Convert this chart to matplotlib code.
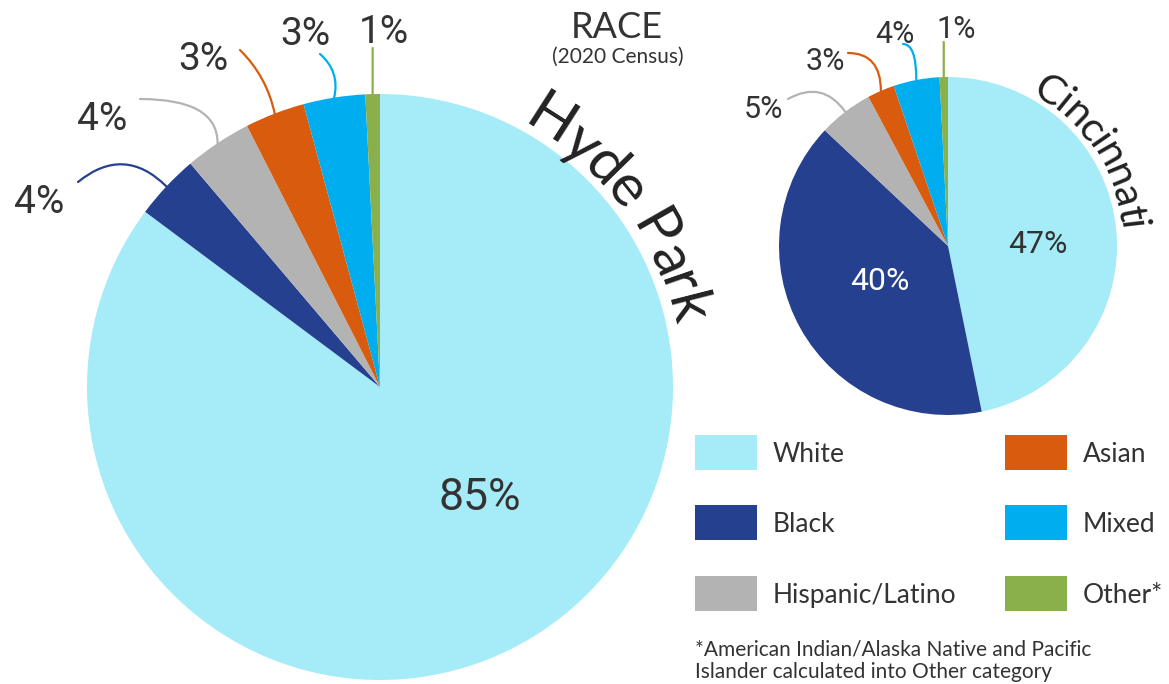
import numpy as np
import matplotlib.pyplot as plt
from matplotlib.patches import Rectangle
from matplotlib.textpath import TextToPath
from matplotlib.font_manager import FontProperties

W, H, DPI = 1169, 684, 100

# data (percent of population, 2020 census)
races = ['White', 'Black', 'Hispanic/Latino', 'Asian', 'Mixed', 'Other*']
colors = ['#A6ECF8', '#25408F', '#B3B3B3', '#D95B0E', '#00AEEF', '#8AB04B']
hyde_park = [85.2, 3.6, 3.7, 3.3, 3.4, 0.8]
cincinnati = [46.8, 40.2, 5.2, 2.6, 4.4, 0.8]

NUM_FONT = 'Roboto'
HEAD_FONT = 'Lato'
TXT = '#333333'


def Y(y):
    # pixel row (from top) -> data y
    return H - y


fig = plt.figure(figsize=(W / DPI, H / DPI), dpi=DPI)
ax = fig.add_axes([0, 0, 1, 1])

hp_c, hp_r = (380, Y(387)), 293
ci_c, ci_r = (948, Y(246)), 169

hp_w, _ = ax.pie(hyde_park, colors=colors, startangle=90, counterclock=False,
                 center=hp_c, radius=hp_r, wedgeprops=dict(linewidth=0))
ci_w, _ = ax.pie(cincinnati, colors=colors, startangle=90, counterclock=False,
                 center=ci_c, radius=ci_r, wedgeprops=dict(linewidth=0))

ax.set_xlim(0, W)
ax.set_ylim(0, H)
ax.set_aspect('equal')
ax.axis('off')


def wedge_point(w, c, r):
    a = np.deg2rad((w.theta1 + w.theta2) / 2)
    return c[0] + r * np.cos(a), c[1] + r * np.sin(a)


def labels(wedges, vals, c, r, pos, ends, styles, sizes, tcolors):
    for w, v, p, e, st, fs, tc in zip(wedges, vals, pos, ends, styles, sizes, tcolors):
        ax.text(p[0], Y(p[1]), f'{v:.0f}%', ha='center', va='baseline',
                fontsize=fs, family=NUM_FONT, color=tc)
        if e is None:
            continue
        wx, wy = wedge_point(w, c, r)
        ex = wx if e[0] is None else e[0]
        ax.annotate('', xy=(wx, wy), xytext=(ex, Y(e[1])),
                    arrowprops=dict(arrowstyle='-', color=w.get_facecolor(), lw=1.6,
                                    connectionstyle=st, shrinkA=0, shrinkB=0))


labels(hp_w, hyde_park, hp_c, hp_r,
       [(480, 510), (39, 213), (102, 130), (203, 70), (305, 45), (384, 43)],
       [None, (78, 182), (140, 99), (240, 50), (320, 54), (None, 48)],
       [None, 'arc3,rad=-0.45', 'angle3,angleA=0,angleB=90', 'arc3,rad=-0.15',
        'arc3,rad=-0.3', 'arc3,rad=0'],
       [32, 28, 28, 28, 28, 28], [TXT] * 6)

labels(ci_w, cincinnati, ci_c, ci_r,
       [(1038, 253), (880, 290), (763, 118), (825, 70), (895, 43), (956, 38)],
       [None, None, (788, 99), (848, 53), (903, 44), (None, 42)],
       [None, None, 'arc3,rad=-0.45', 'angle3,angleA=0,angleB=90',
        'angle3,angleA=0,angleB=90', 'arc3,rad=0'],
       [23, 23, 22, 22, 22, 22], [TXT, 'white'] + [TXT] * 4)


def curved_text(s, c, r_base, r_space, a_start, a_end, family):
    # letters placed clockwise along an arc, sized to fill the span
    t2p = TextToPath()

    def width(t, fs):
        if not t:
            return 0.0
        prop = FontProperties(family=family, size=fs)
        return t2p.get_text_width_height_descent(t, prop, ismath=False)[0] * DPI / 72

    span = np.deg2rad(a_start - a_end) * r_space
    fs = span / width(s, 1.0)
    prop = FontProperties(family=family, size=fs)
    for i, ch in enumerate(s):
        if ch == ' ':
            continue
        mid = (width(s[:i], fs) + width(s[:i + 1], fs)) / 2
        a = np.deg2rad(a_start) - mid / r_space
        ax.text(c[0] + r_base * np.cos(a), c[1] + r_base * np.sin(a), ch,
                fontproperties=prop, rotation=np.rad2deg(a) - 90,
                rotation_mode='anchor', ha='center', va='baseline', color='#222222')


curved_text('Hyde Park', hp_c, 299, 312, 61.5, 11.5, HEAD_FONT)
curved_text('Cincinnati', ci_c, 173, 186, 61, 5, HEAD_FONT)

ax.text(617, Y(38), 'RACE', ha='center', va='baseline', fontsize=26,
        family=HEAD_FONT, color=TXT)
ax.text(618, Y(63), '(2020 Census)', ha='center', va='baseline', fontsize=15,
        family=HEAD_FONT, color=TXT)

# legend, two columns
leg_x = [695, 695, 695, 1005, 1005, 1005]
leg_top = [435, 505, 576, 435, 505, 576]
for name, col, x, t in zip(races, colors, leg_x, leg_top):
    ax.add_patch(Rectangle((x, Y(t + 35)), 62, 35, facecolor=col, edgecolor='none'))
    ax.text(x + 78, Y(t + 27), name, ha='left', va='baseline', fontsize=19,
            family=HEAD_FONT, color=TXT)

ax.text(695, Y(655), '*American Indian/Alaska Native and Pacific', ha='left',
        va='baseline', fontsize=15, family=HEAD_FONT, color=TXT)
ax.text(695, Y(678), 'Islander calculated into Other category', ha='left',
        va='baseline', fontsize=15, family=HEAD_FONT, color=TXT)

fig.savefig('out.png', dpi=DPI)
